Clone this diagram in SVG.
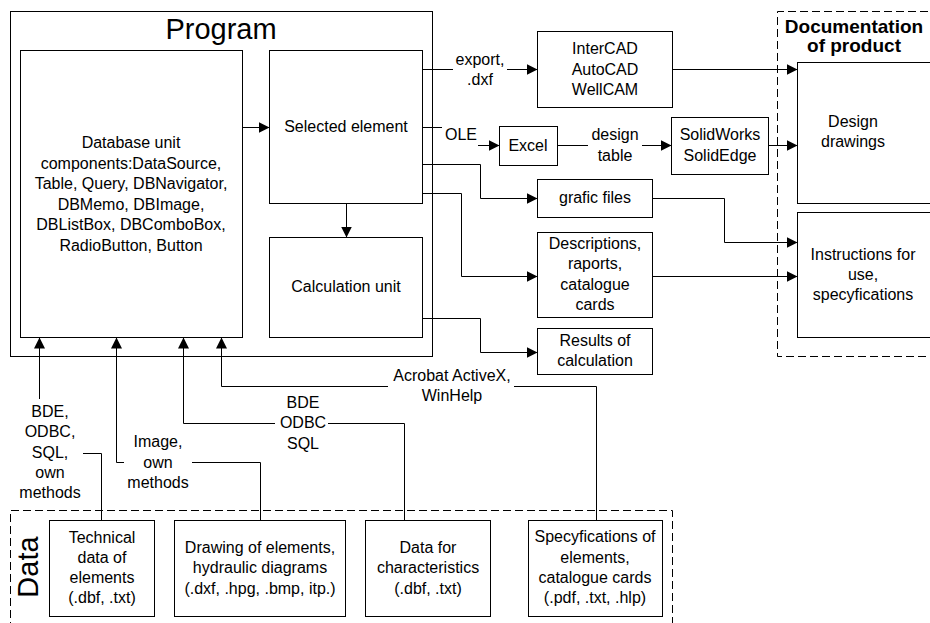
<svg xmlns="http://www.w3.org/2000/svg" width="930" height="623" viewBox="0 0 930 623">
<style>
.b{fill:#fff;stroke:#000;stroke-width:1}
.d{fill:none;stroke:#000;stroke-width:1;stroke-dasharray:8,4}
.c path{fill:none;stroke:#000;stroke-width:1}
text{font-family:"Liberation Sans",Arial,sans-serif;font-size:16px;text-anchor:middle;fill:#000}
.t{font-size:29px}
.h{font-size:19px;font-weight:bold}
</style>
<defs>
<marker id="a" markerUnits="userSpaceOnUse" markerWidth="11" markerHeight="11" refX="11" refY="5.5" orient="auto">
<path d="M0,0 L11,5.5 L0,11 z" fill="#000"/>
</marker>
</defs>
<rect width="930" height="623" fill="#fff"/>

<g id="program">
<rect class="b" x="10.5" y="11.5" width="422" height="345"/>
<text class="t" x="221" y="39">Program</text>
</g>

<g id="documentation">
<path class="d" d="M940,11.5 H777.5 V356.5 H940"/>
<text class="h" x="854" y="33">Documentation</text>
<text class="h" x="854" y="52">of product</text>
</g>

<g id="data">
<path class="d" d="M10.5,630 V510.5 H672.5 V630"/>
<text class="t" transform="translate(38,567) rotate(-90)">Data</text>
</g>

<g id="db-unit">
<rect class="b" x="20.5" y="50.5" width="222" height="287"/>
<text x="131" y="148">Database unit</text>
<text x="131" y="168.5">components:DataSource,</text>
<text x="131" y="189">Table, Query, DBNavigator,</text>
<text x="131" y="209.5">DBMemo, DBImage,</text>
<text x="131" y="230">DBListBox, DBComboBox,</text>
<text x="131" y="250.5">RadioButton, Button</text>
</g>

<g id="selected">
<rect class="b" x="269.5" y="50.5" width="153" height="153"/>
<text x="346" y="132">Selected element</text>
</g>

<g id="calc">
<rect class="b" x="269.5" y="237.5" width="153" height="100"/>
<text x="346" y="292">Calculation unit</text>
</g>

<g id="intercad">
<rect class="b" x="537.5" y="31.5" width="135" height="76"/>
<text x="605" y="54">InterCAD</text>
<text x="605" y="75">AutoCAD</text>
<text x="605" y="95">WellCAM</text>
</g>

<g id="excel">
<rect class="b" x="499.5" y="126.5" width="58" height="39"/>
<text x="528" y="151">Excel</text>
</g>

<g id="solidworks">
<rect class="b" x="671.5" y="117.5" width="97" height="57"/>
<text x="720" y="140">SolidWorks</text>
<text x="720" y="161">SolidEdge</text>
</g>

<g id="grafic">
<rect class="b" x="537.5" y="179.5" width="115" height="38"/>
<text x="595" y="203">grafic files</text>
</g>

<g id="descriptions">
<rect class="b" x="537.5" y="232.5" width="115" height="85"/>
<text x="595" y="249">Descriptions,</text>
<text x="595" y="269">raports,</text>
<text x="595" y="290">catalogue</text>
<text x="595" y="310">cards</text>
</g>

<g id="results">
<rect class="b" x="537.5" y="328.5" width="115" height="46"/>
<text x="595" y="346">Results of</text>
<text x="595" y="366">calculation</text>
</g>

<g id="design">
<rect class="b" x="797.5" y="62.5" width="150" height="141"/>
<text x="853" y="127">Design</text>
<text x="853" y="147">drawings</text>
</g>

<g id="instructions">
<rect class="b" x="797.5" y="212.5" width="150" height="125"/>
<text x="863" y="260">Instructions for</text>
<text x="863" y="280">use,</text>
<text x="863" y="300">specyfications</text>
</g>

<g id="technical">
<rect class="b" x="49.5" y="520.5" width="105" height="96"/>
<text x="102" y="543">Technical</text>
<text x="102" y="563">data of</text>
<text x="102" y="583">elements</text>
<text x="102" y="603">(.dbf, .txt)</text>
</g>

<g id="drawing">
<rect class="b" x="174.5" y="520.5" width="171" height="96"/>
<text x="260" y="553">Drawing of elements,</text>
<text x="260" y="573">hydraulic diagrams</text>
<text x="260" y="594">(.dxf, .hpg, .bmp, itp.)</text>
</g>

<g id="datafor">
<rect class="b" x="365.5" y="520.5" width="125" height="96"/>
<text x="428" y="553">Data for</text>
<text x="428" y="573">characteristics</text>
<text x="428" y="594">(.dbf, .txt)</text>
</g>

<g id="specyfications">
<rect class="b" x="528.5" y="520.5" width="134" height="96"/>
<text x="595" y="542">Specyfications of</text>
<text x="595" y="563">elements,</text>
<text x="595" y="583">catalogue cards</text>
<text x="595" y="603">(.pdf, .txt, .hlp)</text>
</g>

<g id="connectors" class="c">
<path d="M242.5,127.5 H269.5" marker-end="url(#a)"/>
<path d="M346.5,203.5 V237.5" marker-end="url(#a)"/>
<path d="M422.5,69.5 H453"/>
<path d="M507,69.5 H537.5" marker-end="url(#a)"/>
<path d="M672.5,69.5 H797.5" marker-end="url(#a)"/>
<path d="M422.5,127.5 H442"/>
<path d="M478,145.5 H499.5" marker-end="url(#a)"/>
<path d="M557.5,145.5 H588"/>
<path d="M642,145.5 H671.5" marker-end="url(#a)"/>
<path d="M768.5,145.5 H797.5" marker-end="url(#a)"/>
<path d="M422.5,164.5 H480.5 V198.5 H537.5" marker-end="url(#a)"/>
<path d="M652.5,198.5 H724.5 V242.5 H797.5" marker-end="url(#a)"/>
<path d="M422.5,193.5 H461.5 V276.5 H537.5" marker-end="url(#a)"/>
<path d="M652.5,276.5 H797.5" marker-end="url(#a)"/>
<path d="M422.5,318.5 H480.5 V352.5 H537.5" marker-end="url(#a)"/>
<path d="M101.5,520.5 V453.5 H83"/>
<path d="M39.5,399 V337.5" marker-end="url(#a)"/>
<path d="M260.5,520.5 V462.5 H192"/>
<path d="M124,462.5 H116.5 V337.5" marker-end="url(#a)"/>
<path d="M404.5,520.5 V423.5 H328"/>
<path d="M275,423.5 H183.5 V337.5" marker-end="url(#a)"/>
<path d="M596.5,520.5 V386.5 H514"/>
<path d="M388,386.5 H221.5 V337.5" marker-end="url(#a)"/>
</g>

<g id="labels">
<text x="480" y="65">export,</text>
<text x="480" y="85">.dxf</text>
<text x="461" y="140">OLE</text>
<text x="615" y="140">design</text>
<text x="615" y="161">table</text>
<text x="50" y="417">BDE,</text>
<text x="50" y="437">ODBC,</text>
<text x="50" y="458">SQL,</text>
<text x="50" y="478">own</text>
<text x="50" y="498">methods</text>
<text x="158" y="447">Image,</text>
<text x="158" y="468">own</text>
<text x="158" y="488">methods</text>
<text x="303" y="408">BDE</text>
<text x="303" y="428">ODBC</text>
<text x="303" y="449">SQL</text>
<text x="452" y="381">Acrobat ActiveX,</text>
<text x="452" y="401">WinHelp</text>
</g>
</svg>
